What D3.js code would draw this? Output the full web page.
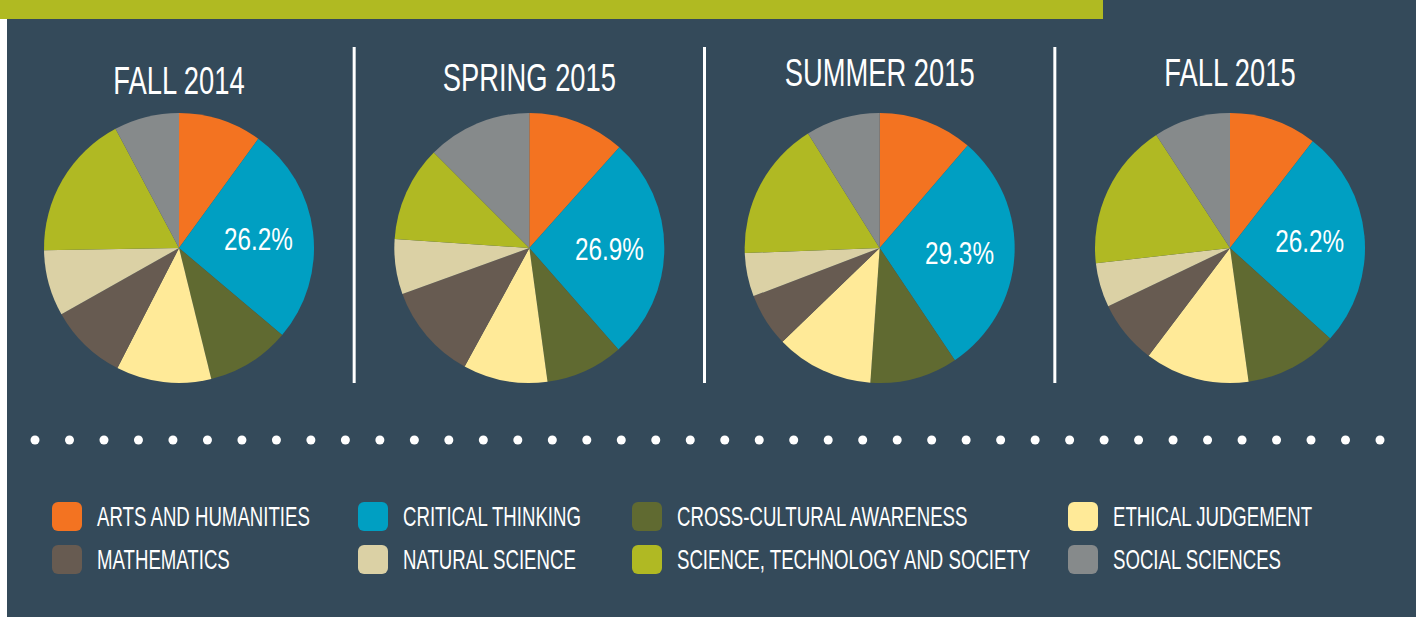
<!DOCTYPE html>
<html>
<head>
<meta charset="utf-8">
<script src="https://cdn.jsdelivr.net/npm/d3@7"></script>
<style>
  html, body { margin: 0; padding: 0; background: #ffffff; }
  svg { display: block; }
  text { font-family: "Liberation Sans", Arial, sans-serif; fill: #ffffff; }
</style>
</head>
<body>
<svg id="chart"></svg>
<script>
// terms (one pie each)
var terms = ["FALL 2014", "SPRING 2015", "SUMMER 2015", "FALL 2015"];

// categories, in the order the slices run clockwise from 12 o'clock
var categories = [
  "ARTS AND HUMANITIES", "CRITICAL THINKING", "CROSS-CULTURAL AWARENESS", "ETHICAL JUDGEMENT",
  "MATHEMATICS", "NATURAL SCIENCE", "SCIENCE, TECHNOLOGY AND SOCIETY", "SOCIAL SCIENCES"
];
var colors = ["#f37321", "#009fc2", "#606a31", "#ffea98", "#675b51", "#dbd1a5", "#b0b923", "#868a8b"];

// share of each category (%) per term
var fall2014 = [10.0, 26.2, 10.0, 11.4, 9.3, 7.9, 17.5, 7.8];
var spring2015 = [11.6, 26.9, 9.3, 10.1, 11.5, 6.6, 11.4, 12.5];
var summer2015 = [11.3, 29.3, 10.5, 11.7, 6.4, 5.2, 16.7, 8.9];
var fall2015 = [10.5, 26.2, 11.1, 12.5, 7.6, 5.3, 17.6, 9.2];
var series = [fall2014, spring2015, summer2015, fall2015];

// which slice gets a value label
var labelledCategory = "CRITICAL THINKING";

(function () {
  var width = 1416,
    height = 619,
    radius = 135,
    cy = 248;

  var svg = d3.select("#chart")
    .attr("width", width)
    .attr("height", height);

  // background panel + green strip on top
  svg.append("rect")
    .attr("x", 7).attr("y", 0)
    .attr("width", width - 7).attr("height", 617)
    .attr("fill", "#344a5a");
  svg.append("rect")
    .attr("x", 0).attr("y", 0)
    .attr("width", 1103).attr("height", 19)
    .attr("fill", "#b0ba22");

  var x = d3.scalePoint()
    .domain(terms)
    .range([179, 1230]);

  var color = d3.scaleOrdinal()
    .domain(categories)
    .range(colors);

  var pie = d3.pie()
    .sort(null)
    .value(function (d) { return d.value; });

  var arc = d3.arc()
    .innerRadius(0)
    .outerRadius(radius);

  var labelArc = d3.arc()
    .innerRadius(80)
    .outerRadius(80);

  // titles sit a little higher on the right
  var titleY = [94, 91, 86, 86];

  terms.forEach(function (term, i) {
    var data = categories.map(function (c, j) {
      return { category: c, value: series[i][j] };
    });

    var g = svg.append("g")
      .attr("transform", "translate(" + x(term) + "," + cy + ")");

    g.selectAll("path")
      .data(pie(data))
      .enter().append("path")
      .attr("d", arc)
      .attr("fill", function (d) { return color(d.data.category); });

    g.selectAll(".pct")
      .data(pie(data).filter(function (d) { return d.data.category == labelledCategory; }))
      .enter().append("text")
      .attr("class", "pct")
      .attr("transform", function (d) {
        var c = labelArc.centroid(d);
        return "translate(" + c[0] + "," + c[1] + ") scale(0.76,1)";
      })
      .attr("text-anchor", "middle")
      .attr("dominant-baseline", "central")
      .style("font-size", "32px")
      .text(function (d) { return d3.format(".1f")(d.data.value) + "%"; });

    // title
    svg.append("text")
      .attr("transform", "translate(" + x(term) + "," + titleY[i] + ") scale(0.72,1)")
      .attr("text-anchor", "middle")
      .style("font-size", "38px")
      .text(term);

    // divider to the right
    if (i < terms.length - 1) {
      svg.append("rect")
        .attr("x", x(term) + x.step() / 2 - 1.5)
        .attr("y", 47)
        .attr("width", 3)
        .attr("height", 336)
        .attr("fill", "#ffffff");
    }
  });

  // dotted separator
  var dots = d3.range(40);
  var dx = d3.scalePoint().domain(dots).range([35, 1380]);
  svg.selectAll(".dot")
    .data(dots)
    .enter().append("circle")
    .attr("class", "dot")
    .attr("cx", function (d) { return dx(d); })
    .attr("cy", 440)
    .attr("r", 4.5)
    .attr("fill", "#ffffff");

  // legend: 4 columns, 2 rows
  var colX = [52, 358, 632, 1068];
  var legend = svg.selectAll(".legend")
    .data(categories)
    .enter().append("g")
    .attr("class", "legend")
    .attr("transform", function (d, i) {
      return "translate(" + colX[i % 4] + "," + (502 + Math.floor(i / 4) * 43) + ")";
    });

  legend.append("rect")
    .attr("width", 30)
    .attr("height", 29)
    .attr("rx", 6)
    .attr("fill", function (d) { return color(d); });

  legend.append("text")
    .attr("transform", "translate(45,24) scale(0.69,1)")
    .style("font-size", "27px")
    .text(function (d) { return d; });
})();
</script>
</body>
</html>
